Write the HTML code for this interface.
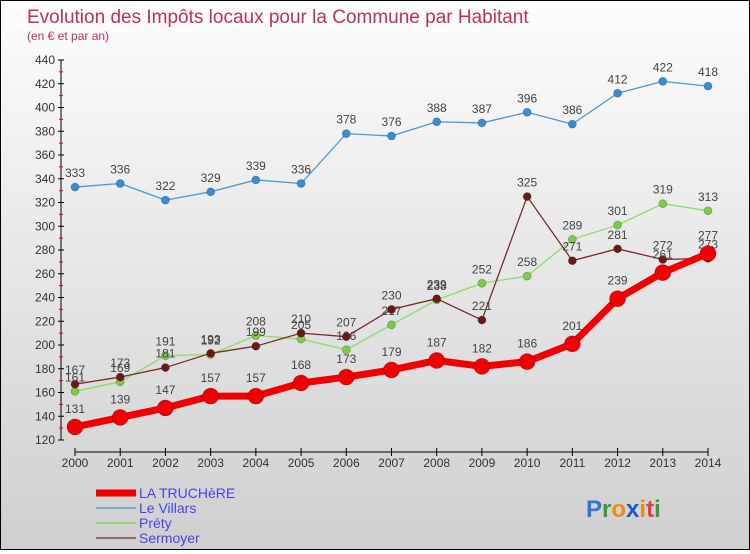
<!DOCTYPE html>
<html><head><meta charset="utf-8"><style>
html,body{margin:0;padding:0}
body{width:750px;height:550px;overflow:hidden;font-family:"Liberation Sans",sans-serif}
#wrap{position:relative;width:748px;height:548px;border:1px solid #000;background:linear-gradient(#fdfdfd,#cfcfcf)}
</style></head><body>
<div id="wrap">
<svg id="chart" width="748" height="548"></svg>
</div>
<script>
const years=["2000","2001","2002","2003","2004","2005","2006","2007","2008","2009","2010","2011","2012","2013","2014"];
const truchere=[131,139,147,157,157,168,173,179,187,182,186,201,239,261,277];
const villars=[333,336,322,329,339,336,378,376,388,387,396,386,412,422,418];
const prety=[161,169,191,192,208,205,196,217,238,252,258,289,301,319,313];
const sermoyer=[167,173,181,193,199,210,207,230,239,221,325,271,281,272,273];
const yTicks=[120,140,160,180,200,220,240,260,280,300,320,340,360,380,400,420,440];
const NS="http://www.w3.org/2000/svg";
const svg=document.getElementById('chart');
function X(i){return 74+i*(633/14);}
function Y(v){return 439-(v-120)*380/320;}
function mk(tag,attrs,parent){const e=document.createElementNS(NS,tag);for(const k in attrs)e.setAttribute(k,attrs[k]);(parent||svg).appendChild(e);return e;}
function txt(x,y,s,attrs){const t=mk('text',Object.assign({x:x,y:y},attrs));t.textContent=s;return t;}
// title
let t=txt(26,22,"Evolution des Impôts locaux pour la Commune par Habitant",{fill:"#c0305a","font-size":"19"});


t=txt(26,39,"(en € et par an)",{fill:"#c0305a","font-size":"12"});


// y axis
const ya=mk('g',{});


mk('line',{x1:60,y1:Y(440),x2:60,y2:Y(120),stroke:"#000"},ya);
yTicks.forEach((v,i)=>{
 mk('line',{x1:57,y1:Y(v),x2:63,y2:Y(v),stroke:"#000"},ya);
 if(i<yTicks.length-1) mk('line',{x1:58,y1:Y(v+10),x2:62,y2:Y(v+10),stroke:"#e00"},ya);
 const l=txt(54,Y(v)+4,String(v),{fill:"#333","font-size":"12","text-anchor":"end"});ya.appendChild(l);
 
 
});
// x axis
const xa=mk('g',{});


mk('line',{x1:X(0),y1:451,x2:X(14),y2:451,stroke:"#000"},xa);
years.forEach((y,i)=>{
 mk('line',{x1:X(i),y1:447,x2:X(i),y2:455,stroke:"#000"},xa);
 const l=txt(X(i),466,y,{fill:"#333","font-size":"12","text-anchor":"middle"});xa.appendChild(l);
 
 
});
function series(name,data,color,w,r,fill){
 const g=mk('g',{});
 
 
 mk('polyline',{points:data.map((v,i)=>X(i)+","+Y(v)).join(" "),fill:"none",stroke:color,"stroke-width":w,"stroke-linejoin":"round"},g);
 data.forEach((v,i)=>{
  const c=mk('circle',{cx:X(i),cy:Y(v),r:r,fill:fill,stroke:"rgba(0,0,0,0.25)","stroke-width":0.8},g);
  
  
  const l=txt(X(i),Y(v)-(r+6),String(v),{fill:"#444","font-size":"12","text-anchor":"middle"});g.appendChild(l);
  
  
 });
}
series('series-le-villars',villars,"#4a9ad6",1.3,4,"#3c8cd0");
series('series-prety',prety,"#8fdc6a",1.3,4,"#7ccc44");
series('series-sermoyer',sermoyer,"#7a2a2a",1.3,4,"#6a1818");
series('series-la-truchere',truchere,"#f00000",7,8,"#f00000");
// legend
const lg=mk('g',{});


const leg=[["LA TRUCHèRE","#f00000",7],["Le Villars","#7aaad0",2],["Préty","#9ad47a",2],["Sermoyer","#9a6a6a",2]];
leg.forEach((e,i)=>{
 const y=492+i*15;
 const g=mk('g',{},lg);
 
 
 mk('line',{x1:95,y1:y,x2:135,y2:y,stroke:e[1],"stroke-width":e[2]},g);
 const l=txt(138,y+5,e[0],{fill:"#4444ee","font-size":"14"});g.appendChild(l);
});
// logo
const lo=mk('text',{x:585,y:516,"font-size":"24","font-weight":"bold"});


[["P","#2a7ad0"],["r","#3a9a3a"],["o","#f08a10"],["x","#1a5ad0"],["i","#f08a10"],["t","#e04040"],["i","#3a9a3a"]].forEach(p=>{const s=mk('tspan',{fill:p[1]},lo);s.textContent=p[0];});
</script>
</body></html>
